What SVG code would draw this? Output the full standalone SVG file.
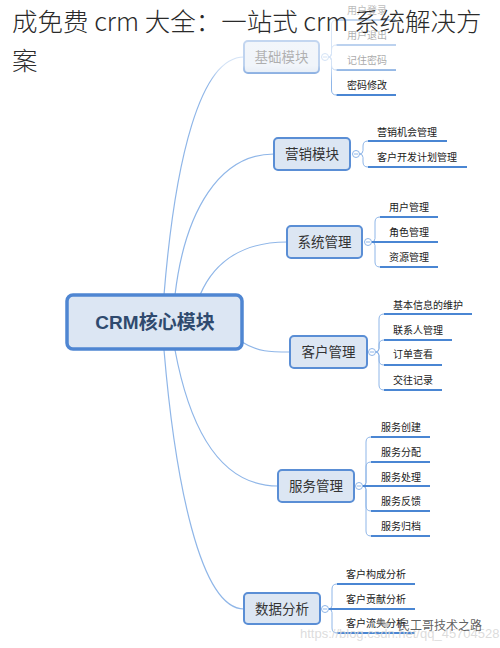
<svg xmlns="http://www.w3.org/2000/svg" width="500" height="648" viewBox="0 0 500 648">
<defs>
<style>
.box{fill:#dce6f3;stroke:#5a8ed5;stroke-width:2}
.root{fill:#dce6f3;stroke:#4f86d2;stroke-width:3.5}
.lbl{font-family:"Noto Sans CJK SC","Noto Sans",sans-serif;font-size:13.5px;fill:#333;text-anchor:middle}
.rlbl{font-family:"Liberation Sans","Noto Sans CJK SC",sans-serif;font-size:19px;font-weight:bold;fill:#2f4a6e;text-anchor:middle}
.leaf{font-family:"Noto Sans CJK SC","Noto Sans",sans-serif;font-size:10px;fill:#1a1a1a}
.ul{stroke:#4a86d3;stroke-width:2;fill:none}
.br{fill:none;stroke:#8fb6e8;stroke-width:1}
.conn{fill:none;stroke:#8fb6e8;stroke-width:1.2}
.tog{fill:#fff;stroke:#8fb6e8;stroke-width:1}
.title{font-family:"Noto Sans CJK SC","Noto Sans",sans-serif;font-size:25.5px;font-weight:300;fill:#2a2a2a}
</style>
<linearGradient id="fade" x1="0" y1="0" x2="0" y2="1">
<stop offset="0" stop-color="#fff" stop-opacity="0.7"/>
<stop offset="0.8" stop-color="#fff" stop-opacity="0.6"/>
<stop offset="1" stop-color="#fff" stop-opacity="0"/>
</linearGradient>
</defs>
<rect width="500" height="648" fill="#fff"/>

<g id="connectors">
<path class="conn" d="M164,295 C175,160 200,57 244,57"/>
<path class="conn" d="M175,295 C185,210 220,154 274,154"/>
<path class="conn" d="M200,295 C215,260 245,242 287,242"/>
<path class="conn" d="M242,342 C258,352 270,352 290,352"/>
<path class="conn" d="M175,350 C190,430 220,486 278,486"/>
<path class="conn" d="M164,350 C175,480 200,609 244,609"/>
</g>

<g id="root">
<rect class="root" x="67" y="295" width="175" height="54" rx="6"/>
<text class="rlbl" x="155" y="329">CRM核心模块</text>
</g>

<g id="jichu">
<rect class="box" x="244" y="41" width="75" height="32" rx="4"/>
<text class="lbl" x="281.5" y="62">基础模块</text>
<path class="br" d="M328.5,57 Q331.5,57 331.5,53.5 L331.5,25 Q331.5,20 336.5,20"/>
<path class="br" d="M328.5,57 Q331.5,57 331.5,53.5 L331.5,50 Q331.5,45 336.5,45"/>
<path class="br" d="M328.5,57 Q331.5,57 331.5,60.5 L331.5,65 Q331.5,70 336.5,70"/>
<path class="br" d="M328.5,57 Q331.5,57 331.5,60.5 L331.5,90 Q331.5,95 336.5,95"/>
<line class="ul" x1="336.5" y1="20" x2="396" y2="20"/>
<line class="ul" x1="336.5" y1="45" x2="396" y2="45"/>
<line class="ul" x1="336.5" y1="70" x2="396" y2="70"/>
<line class="ul" x1="336.5" y1="95" x2="396" y2="95"/>
<text class="leaf" x="347" y="13.6">用户登录</text>
<text class="leaf" x="347" y="38.6">用户退出</text>
<text class="leaf" x="347" y="63.6">记住密码</text>
<text class="leaf" x="347" y="88.6">密码修改</text>
<circle class="tog" cx="325" cy="57" r="3.5"/>
<line class="br" x1="323" y1="57" x2="327" y2="57"/>
</g>

<g id="yingxiao">
<rect class="box" x="274" y="138" width="76" height="32" rx="4"/>
<text class="lbl" x="312" y="159">营销模块</text>
<path class="br" d="M359.5,154 Q363,154 363,150.5 L363,146 Q363,141 368,141"/>
<path class="br" d="M359.5,154 Q363,154 363,157.5 L363,162 Q363,167 368,167"/>
<line class="ul" x1="368" y1="141" x2="447" y2="141"/>
<line class="ul" x1="368" y1="167" x2="467" y2="167"/>
<text class="leaf" x="377" y="135.6">营销机会管理</text>
<text class="leaf" x="377" y="160.6">客户开发计划管理</text>
<circle class="tog" cx="356" cy="154" r="3.5"/>
<line class="br" x1="354" y1="154" x2="358" y2="154"/>
</g>

<g id="xitong">
<rect class="box" x="287" y="226" width="75" height="32" rx="4"/>
<text class="lbl" x="324.5" y="247">系统管理</text>
<path class="br" d="M371.5,242 Q375,242 375,238.5 L375,222 Q375,217 380,217"/>
<path class="br" d="M371.5,242 Q375,242 375,245.5 L375,262 Q375,267 380,267"/>
<line class="ul" x1="380" y1="217" x2="438" y2="217"/>
<line class="ul" x1="371.5" y1="242" x2="438" y2="242"/>
<line class="ul" x1="380" y1="267" x2="438" y2="267"/>
<text class="leaf" x="389" y="210.6">用户管理</text>
<text class="leaf" x="389" y="235.6">角色管理</text>
<text class="leaf" x="389" y="260.6">资源管理</text>
<circle class="tog" cx="368" cy="242" r="3.5"/>
<line class="br" x1="366" y1="242" x2="370" y2="242"/>
</g>

<g id="kehu">
<rect class="box" x="290" y="336" width="77" height="32" rx="4"/>
<text class="lbl" x="328.5" y="357">客户管理</text>
<path class="br" d="M375.5,352 Q379,352 379,348.5 L379,319 Q379,314 384,314"/>
<path class="br" d="M375.5,352 Q379,352 379,348.5 L379,345 Q379,340 384,340"/>
<path class="br" d="M375.5,352 Q379,352 379,355.5 L379,360 Q379,365 384,365"/>
<path class="br" d="M375.5,352 Q379,352 379,355.5 L379,385 Q379,390 384,390"/>
<line class="ul" x1="384" y1="314" x2="472" y2="314"/>
<line class="ul" x1="384" y1="340" x2="452" y2="340"/>
<line class="ul" x1="384" y1="365" x2="442" y2="365"/>
<line class="ul" x1="384" y1="390" x2="442" y2="390"/>
<text class="leaf" x="393" y="308.6">基本信息的维护</text>
<text class="leaf" x="393" y="333.6">联系人管理</text>
<text class="leaf" x="393" y="357.6">订单查看</text>
<text class="leaf" x="393" y="383.6">交往记录</text>
<circle class="tog" cx="372" cy="352" r="3.5"/>
<line class="br" x1="370" y1="352" x2="374" y2="352"/>
</g>

<g id="fuwu">
<rect class="box" x="278" y="470" width="76" height="32" rx="4"/>
<text class="lbl" x="316" y="491">服务管理</text>
<path class="br" d="M362.5,486 Q366,486 366,482.5 L366,442 Q366,437 371,437"/>
<path class="br" d="M362.5,486 Q366,486 366,482.5 L366,467 Q366,462 371,462"/>
<path class="br" d="M362.5,486 Q366,486 366,489.5 L366,506 Q366,511 371,511"/>
<path class="br" d="M362.5,486 Q366,486 366,489.5 L366,531 Q366,536 371,536"/>
<line class="ul" x1="371" y1="437" x2="430" y2="437"/>
<line class="ul" x1="371" y1="462" x2="430" y2="462"/>
<line class="ul" x1="362.5" y1="486" x2="430" y2="486"/>
<line class="ul" x1="371" y1="511" x2="430" y2="511"/>
<line class="ul" x1="371" y1="536" x2="430" y2="536"/>
<text class="leaf" x="381" y="430.6">服务创建</text>
<text class="leaf" x="381" y="455.6">服务分配</text>
<text class="leaf" x="381" y="480.6">服务处理</text>
<text class="leaf" x="381" y="504.6">服务反馈</text>
<text class="leaf" x="381" y="529.6">服务归档</text>
<circle class="tog" cx="359" cy="486" r="3.5"/>
<line class="br" x1="357" y1="486" x2="361" y2="486"/>
</g>

<g id="shuju">
<rect class="box" x="244" y="593" width="76" height="31" rx="4"/>
<text class="lbl" x="282" y="613.5">数据分析</text>
<path class="br" d="M328.5,609 Q332,609 332,605.5 L332,589 Q332,584 337,584"/>
<path class="br" d="M328.5,609 Q332,609 332,612.5 L332,628 Q332,633 337,633"/>
<line class="ul" x1="337" y1="584" x2="415" y2="584"/>
<line class="ul" x1="328.5" y1="609" x2="415" y2="609"/>
<line class="ul" x1="337" y1="633" x2="415" y2="633"/>
<text class="leaf" x="346" y="577.6">客户构成分析</text>
<text class="leaf" x="346" y="602.6">客户贡献分析</text>
<text class="leaf" x="346" y="626.6">客户流失分析</text>
<circle class="tog" cx="325" cy="609" r="3.5"/>
<line class="br" x1="323" y1="609" x2="327" y2="609"/>
</g>

<rect x="0" y="0" width="500" height="82" fill="url(#fade)"/>

<g id="watermark">
<text x="300" y="638" font-family="Liberation Sans, sans-serif" font-size="13px" fill="#d6d6d6" fill-opacity="0.85">https://blog.csdn.net/qq_45704528</text>
<ellipse cx="381" cy="622" rx="4" ry="3.3" fill="#888" fill-opacity="0.6"/>
<ellipse cx="386" cy="625" rx="3.3" ry="2.8" fill="#aaa" fill-opacity="0.6"/>
<text x="398" y="630" font-family="Noto Sans CJK SC, sans-serif" font-size="12px" fill="#444" fill-opacity="0.85">民工哥技术之路</text>
</g>

<g id="title">
<text class="title" x="12" y="31">成免费 crm 大全：一站式 crm 系统解决方</text>
<text class="title" x="12" y="70">案</text>
</g>
</svg>
